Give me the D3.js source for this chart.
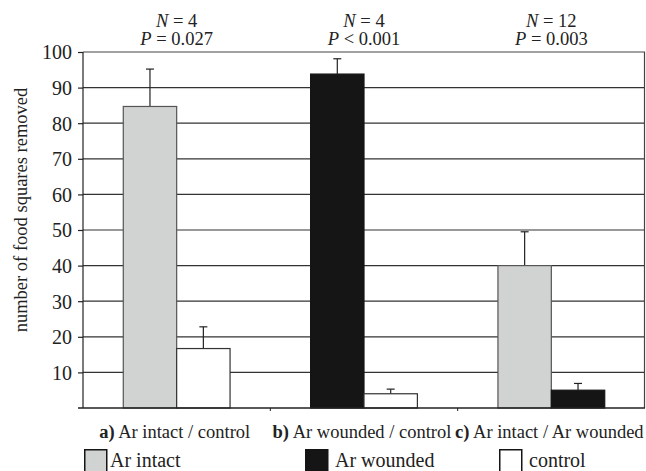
<!DOCTYPE html>
<html>
<head>
<meta charset="utf-8">
<script src="https://cdn.jsdelivr.net/npm/d3@7"></script>
<style>
  body { margin: 0; background: #fff; }
  svg text { font-family: "Times New Roman", Times, "Liberation Serif", "DejaVu Serif", "Noto Serif", serif !important; }
</style>
</head>
<body>
<svg id="chart"></svg>
<script>
const width = 646, height = 471;
const margin = { top: 52, right: 1, bottom: 62, left: 83 };

// data
const groups = ["a", "b", "c"];
const groupLabels = ["Ar intact / control", "Ar wounded / control", "Ar intact / Ar wounded"];
const nLabels = ["4", "4", "12"];
const pLabels = ["= 0.027", "< 0.001", "= 0.003"];
const firstSeries = ["intact", "wounded", "intact"];
const secondSeries = ["control", "control", "wounded"];
const firstValues = [84.7, 93.8, 40];
const firstErrors = [95.2, 98.1, 49.5];
const secondValues = [16.7, 4, 5];
const secondErrors = [22.8, 5.3, 6.9];
const yTicks = [10, 20, 30, 40, 50, 60, 70, 80, 90, 100];
const legendKeys = ["intact", "wounded", "control"];
const legendLabels = ["Ar intact", "Ar wounded", "control"];

const fillColor = { intact: "#d1d3d2", wounded: "#151515", control: "#ffffff" };
const strokeColor = { intact: "#555", wounded: "#151515", control: "#333" };

const svg = d3.select("#chart").attr("width", width).attr("height", height);

const x = d3.scaleBand()
    .domain(groups)
    .range([margin.left, width - margin.right]);

const y = d3.scaleLinear()
    .domain([0, 100])
    .range([height - margin.bottom - 1, margin.top]);

const barW = x.bandwidth() * 0.285;

// grid lines
svg.append("g")
    .selectAll("line")
    .data(yTicks.slice(0, -1))
    .join("line")
    .attr("x1", margin.left).attr("x2", width - margin.right)
    .attr("y1", d => y(d)).attr("y2", d => y(d))
    .attr("stroke", "#333").attr("stroke-width", 1.2);

// frame top + right
svg.append("path")
    .attr("d", `M${margin.left},${y(100)}H${width - margin.right - 0.5}V${y(0)}`)
    .attr("fill", "none").attr("stroke", "#444").attr("stroke-width", 1.2);

const bars = [];
groups.forEach((g, i) => {
    const cx = x(g) + x.bandwidth() / 2;
    bars.push({ x0: cx - barW, key: firstSeries[i], v: firstValues[i], e: firstErrors[i] });
    bars.push({ x0: cx, key: secondSeries[i], v: secondValues[i], e: secondErrors[i] });
});

// error bars
const err = svg.append("g").attr("stroke", "#222").attr("stroke-width", 1.2);
err.selectAll("line.v")
    .data(bars)
    .join("line")
    .attr("x1", d => d.x0 + barW / 2).attr("x2", d => d.x0 + barW / 2)
    .attr("y1", d => y(d.v)).attr("y2", d => y(d.e));
err.selectAll("line.c")
    .data(bars)
    .join("line")
    .attr("x1", d => d.x0 + barW / 2 - 4).attr("x2", d => d.x0 + barW / 2 + 4)
    .attr("y1", d => y(d.e)).attr("y2", d => y(d.e));

svg.append("g")
    .selectAll("rect")
    .data(bars)
    .join("rect")
    .attr("x", d => d.x0)
    .attr("y", d => y(d.v))
    .attr("width", barW)
    .attr("height", d => y(0) - y(d.v))
    .attr("fill", d => fillColor[d.key])
    .attr("stroke", d => strokeColor[d.key])
    .attr("stroke-width", 1.2);

// y axis
svg.append("g")
    .attr("transform", `translate(${margin.left},0)`)
    .call(d3.axisLeft(y).tickValues(yTicks).tickSize(5).tickPadding(6))
    .call(g => g.select(".domain").attr("d", `M0,${y(100)}V${y(0)}`).attr("stroke", "#222").attr("stroke-width", 1.2))
    .call(g => g.selectAll(".tick line").attr("stroke", "#222").attr("stroke-width", 1.2))
    .call(g => g.selectAll(".tick text").attr("font-size", 20).attr("fill", "#222").attr("dy", "0.34em"));

// x axis
svg.append("g")
    .attr("transform", `translate(0,${y(0)})`)
    .call(g => g.append("line")
        .attr("x1", margin.left - 5).attr("x2", width - margin.right)
        .attr("stroke", "#222").attr("stroke-width", 1.4))
    .call(g => g.selectAll(".sep")
        .data(groups.slice(1))
        .join("line")
        .attr("x1", d => x(d)).attr("x2", d => x(d))
        .attr("y1", 0).attr("y2", 3)
        .attr("stroke", "#222"));

const labels = svg.append("g")
    .attr("fill", "#222")
    .selectAll("text")
    .data(groups)
    .join("text")
    .attr("x", d => x(d) + x.bandwidth() / 2 - 2)
    .attr("y", 438)
    .attr("text-anchor", "middle")
    .attr("font-size", 18.5);
labels.append("tspan").attr("font-weight", "bold").text(d => d + ")");
labels.append("tspan").text((d, i) => " " + groupLabels[i]);

// N / P annotations
const ann = svg.append("g")
    .attr("fill", "#222")
    .selectAll("g")
    .data(groups)
    .join("g")
    .attr("transform", d => `translate(${x(d) + x.bandwidth() / 2},0)`)
    .attr("font-size", 18.5)
    .attr("text-anchor", "middle");
ann.append("text").attr("y", 26.5)
    .call(t => t.append("tspan").attr("font-style", "italic").text("N"))
    .call(t => t.append("tspan").text((d, i) => " = " + nLabels[i]));
ann.append("text").attr("y", 45)
    .call(t => t.append("tspan").attr("font-style", "italic").text("P"))
    .call(t => t.append("tspan").text((d, i) => " " + pLabels[i]));

// y label
svg.append("text")
    .attr("transform", "translate(27,210) rotate(-90)")
    .attr("text-anchor", "middle")
    .attr("fill", "#222")
    .attr("font-size", 18.5)
    .text("number of food squares removed");

// legend
const legendX = [84, 305, 499];
const leg = svg.append("g")
    .selectAll("g")
    .data(legendKeys)
    .join("g")
    .attr("transform", (d, i) => `translate(${legendX[i]},449)`);
leg.append("rect")
    .attr("x", 0.75).attr("y", 0.75)
    .attr("width", 22).attr("height", 24)
    .attr("fill", d => fillColor[d])
    .attr("stroke", "#151515").attr("stroke-width", 1.5);
leg.append("text")
    .attr("x", (d, i) => i === 0 ? 26 : 30)
    .attr("y", 18)
    .attr("fill", "#222")
    .attr("font-size", 20)
    .text((d, i) => legendLabels[i]);
</script>
</body>
</html>
